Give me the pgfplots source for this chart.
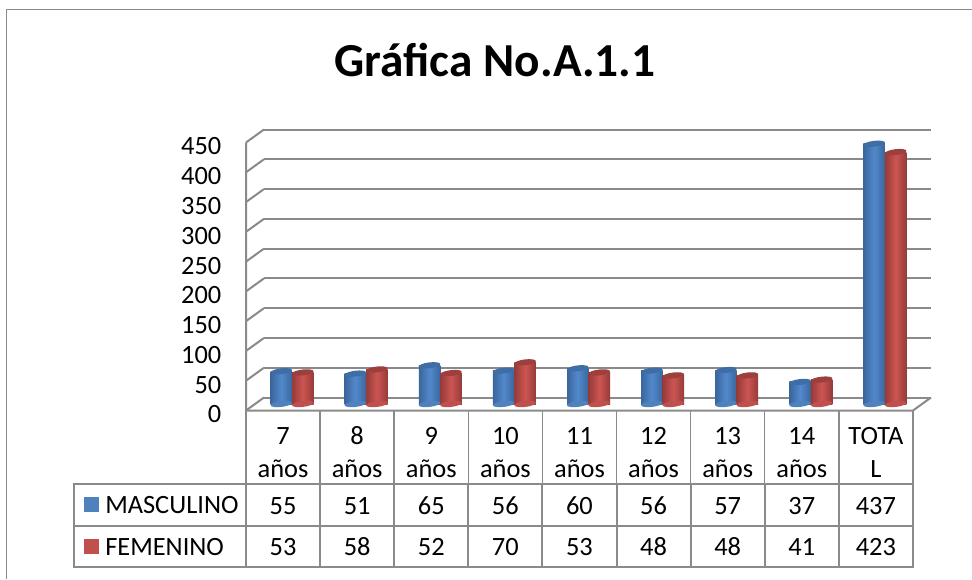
\documentclass[border=0pt]{standalone}
\usepackage{fontspec}
\setmainfont{Carlito}
\usepackage{pgfplots}
\usepackage{pgfplotstable}
\pgfplotsset{compat=1.18}

\definecolor{gridgray}{HTML}{8A8A8A}
\definecolor{blueedge}{HTML}{3A669C}
\definecolor{bluemid}{HTML}{5289CC}
\definecolor{bluecap}{HTML}{3F6EA6}
\definecolor{bluekey}{HTML}{4F81BD}
\definecolor{rededge}{HTML}{963B39}
\definecolor{redmid}{HTML}{CC5552}
\definecolor{redcap}{HTML}{9C3F3D}
\definecolor{redkey}{HTML}{C0504D}

% one reference pixel
\def\u{0.75pt}

\pgfplotstableread{
x   masc fem
0.5 55   53
1.5 51   58
2.5 65   52
3.5 56   70
4.5 60   53
5.5 56   48
6.5 57   48
7.5 37   41
8.5 437  423
}\datatable

\pgfdeclareplotmark{cap}{%
  \pgfpathellipse{\pgfpointorigin}{\pgfqpoint{8.05pt}{0.9pt}}{\pgfqpoint{0pt}{2.2pt}}%
  \pgfusepathqfill}

% one category: a plot per bar, so that each bar has its own shading
\newcommand{\cyl}[2]{%
  \addplot[only marks, mark=cap, mark options={fill=bluekey, draw=none}, restrict x to domain=#1:#2]
    table[x expr=\thisrow{x}-0.145, y expr=0] {\datatable};
  \addplot[ybar, bar width=21.5*\u, bar shift=-10.75*\u, draw=none,
    left color=blueedge, right color=blueedge, middle color=bluemid, restrict x to domain=#1:#2]
    table[x=x, y=masc] {\datatable};
  \addplot[only marks, mark=cap, mark options={fill=bluecap, draw=none}, restrict x to domain=#1:#2]
    table[x expr=\thisrow{x}-0.145, y=masc] {\datatable};
  \addplot[only marks, mark=cap, mark options={fill=redkey, draw=none}, restrict x to domain=#1:#2]
    table[x expr=\thisrow{x}+0.145, y expr=0] {\datatable};
  \addplot[ybar, bar width=21.5*\u, bar shift=10.75*\u, draw=none,
    left color=rededge, right color=rededge, middle color=redmid, restrict x to domain=#1:#2]
    table[x=x, y=fem] {\datatable};
  \addplot[only marks, mark=cap, mark options={fill=redcap, draw=none}, restrict x to domain=#1:#2]
    table[x expr=\thisrow{x}+0.145, y=fem] {\datatable};
}

\pgfplotsset{
  plane/.style={
    scale only axis, width=667*\u, height=268*\u,
    xmin=0, xmax=9, ymin=0, ymax=450,
    clip=false,
    axis line style={draw=none},
    tick style={draw=none},
    ytick={0,50,...,450},
  },
  blank/.style={plane, xtick=\empty, yticklabels={}, ytick=\empty},
}

\begin{document}
\begin{tikzpicture}[x=\u, y=-\u, line cap=butt]
\useasboundingbox (0,0) rectangle (972,579);
\fill[white] (0,0) rectangle (972,579);
\draw[gridgray, line width=1.9*\u] (972,9.5) -- (6.5,9.5) -- (6.5,579);

\node[font=\fontsize{35.5}{40}\selectfont\bfseries, anchor=base] at (495,76) {Gráfica No.A.1.1};

% back wall
\begin{axis}[
  plane, at={(264*\u,-397.5*\u)}, anchor=south west,
  xtick=\empty, yticklabels={},
  ymajorgrids, grid style={gridgray, line width=2*\u},
]
\end{axis}

% front plane: value and category labels, depth lines
\begin{axis}[
  plane, at={(246*\u,-410.5*\u)}, anchor=south west,
  /pgf/number format/assume math mode=true,
  yticklabel style={font=\fontsize{19.8}{24}\selectfont, anchor=east, xshift=-15pt, yshift=-3pt},
  xtick={0.5,1.5,...,8.5},
  xticklabels={{\strut 7\\años},{\strut 8\\años},{\strut 9\\años},{\strut 10\\años},{\strut 11\\años},{\strut 12\\años},{\strut 13\\años},{\strut 14\\años},{\strut TOTA\\L}},
  xticklabel style={font=\fontsize{19.8}{24.75}\selectfont, align=center, anchor=north, yshift=-5pt},
]
\pgfplotsinvokeforeach{0,50,...,450}{
  \draw[gridgray, line width=2*\u] (axis cs:0,#1) -- ++(13.5pt,9.75pt);
}
\draw[gridgray, line width=2*\u] (axis cs:0,450) -- (axis cs:0,0) -- (axis cs:9,0) -- ++(13.5pt,9.75pt);
\end{axis}

% cylinders at mid depth
\begin{axis}[
  blank, at={(255*\u,-404*\u)}, anchor=south west,
]
\cyl{0.2}{0.8}
\cyl{1.2}{1.8}
\cyl{2.2}{2.8}
\cyl{3.2}{3.8}
\cyl{4.2}{4.8}
\cyl{5.2}{5.8}
\cyl{6.2}{6.8}
\cyl{7.2}{7.8}
\cyl{8.2}{8.8}
\end{axis}

% data table
\foreach \i in {0,...,9} {
  \draw[gridgray, line width=1.5*\u] ({246+74.1*\i},410) -- ({246+74.1*\i},484);
  \draw[gridgray, line width=2*\u] ({246+74.1*\i},484) -- ({246+74.1*\i},567);
}
\draw[gridgray, line width=2*\u] (73,484) -- (913.9,484);
\draw[gridgray, line width=2*\u] (73,526) -- (913.9,526);
\draw[gridgray, line width=2*\u] (73,567) -- (913.9,567);
\draw[gridgray, line width=2*\u] (74,484) -- (74,567);

\fill[bluekey] (84,497) rectangle (99,512);
\fill[redkey] (84,539) rectangle (99,554);
\node[font=\fontsize{19.8}{24}\selectfont, anchor=base west, inner sep=0pt] at (105,513.5) {MASCULINO};
\node[font=\fontsize{19.8}{24}\selectfont, anchor=base west, inner sep=0pt] at (105,555) {FEMENINO};

\foreach \i/\m/\f in {0/55/53,1/51/58,2/65/52,3/56/70,4/60/53,5/56/48,6/57/48,7/37/41,8/437/423} {
  \node[font=\fontsize{19.8}{24}\selectfont, anchor=base, inner sep=0pt] at ({246+74.1*(\i+0.5)},514) {\m};
  \node[font=\fontsize{19.8}{24}\selectfont, anchor=base, inner sep=0pt] at ({246+74.1*(\i+0.5)},555) {\f};
}
\end{tikzpicture}
\end{document}
